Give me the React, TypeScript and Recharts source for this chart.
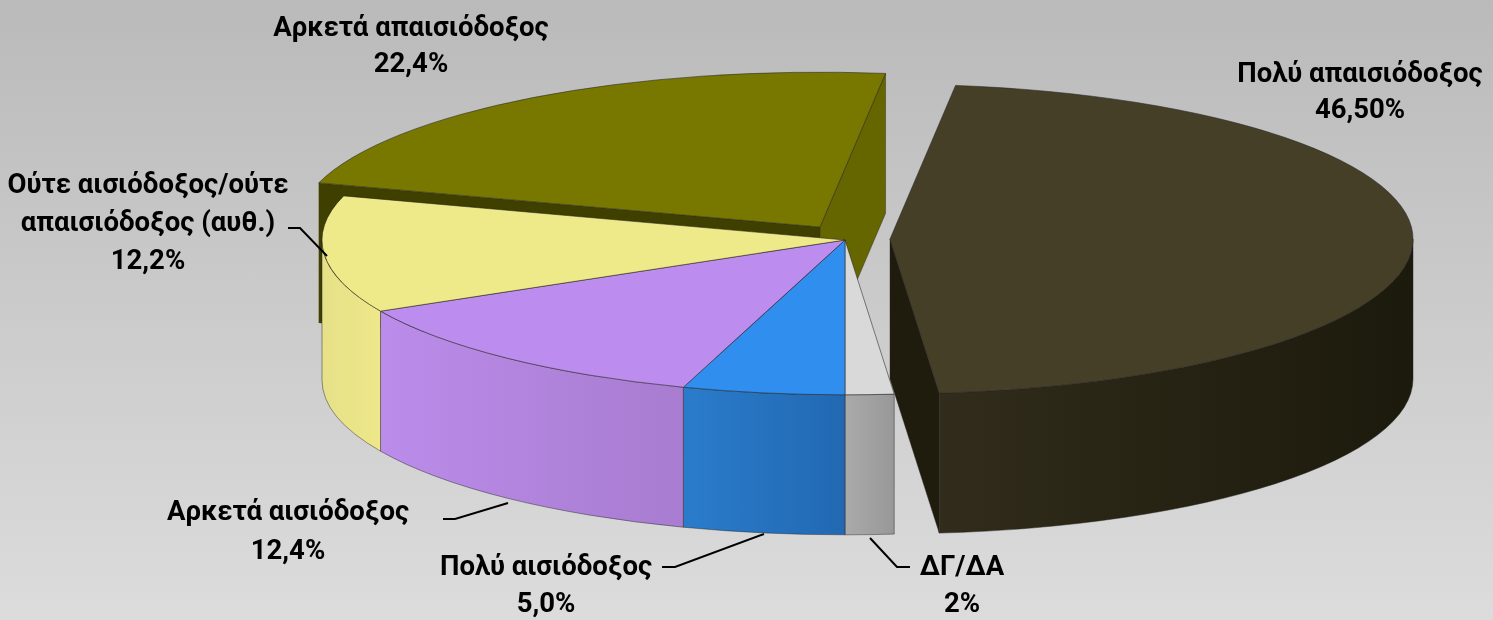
import { PieChart, Pie, Cell } from "recharts"

// drawn back to front, so the olive slice comes first
const sliceNames = ["Αρκετά απαισιόδοξος", "Πολύ απαισιόδοξος", "ΔΓ/ΔΑ", "Πολύ αισιόδοξος", "Αρκετά αισιόδοξος", "Ούτε αισιόδοξος/ούτε απαισιόδοξος (αυθ.)"]
const sliceValues = [22.4, 46.5, 1.5, 5, 12.4, 12.2]
const valueLabels = ["22,4%", "46,50%", "2%", "5,0%", "12,4%", "12,2%"]

const topColors = ["#787800", "#453f28", "#d9d9d9", "#2f8eee", "#bc8cee", "#eeea8a"]
const wallFrom = ["#666600", "#312c1b", "#aaaaaa", "#2a7ccb", "#bb8cea", "#e6e088"]
const wallTo = ["#666600", "#1c1a0c", "#989898", "#2268b2", "#a87cd0", "#eee88a"]
const faceColors = ["#3f3f00", "#1f1c0e", "", "", "", ""]

const explodeX = [-25, 45, 0, 0, 0, 0]
const explodeY = [-13, -1, 0, 0, 0, 0]

const labelLines = [
  ["Αρκετά απαισιόδοξος"],
  ["Πολύ απαισιόδοξος"],
  ["ΔΓ/ΔΑ"],
  ["Πολύ αισιόδοξος"],
  ["Αρκετά αισιόδοξος"],
  ["Ούτε αισιόδοξος/ούτε", "απαισιόδοξος (αυθ.)"],
]
const labelX = [411, 1360, 962, 546, 288, 148]
const labelY = [36, 82, 575, 575, 520, 193]
const labelStep = [36, 36, 37, 37, 39, 38]
const leaderLines = ["", "", "910,567 897,567 870,538", "662,567 675,567 764,534", "443,519 455,519 508,503", "288,228 300,228 327,256"]

const WIDTH = 1493
const HEIGHT = 620
const TILT = 0.296
const DEPTH = 140
const rad = (a: number) => (a * Math.PI) / 180

function Slice3D(props: any) {
  const { cx, cy, outerRadius, startAngle, endAngle, index } = props
  const i = index ?? 0
  const x0 = cx + explodeX[i]
  const y0 = cy + explodeY[i]
  const rx = outerRadius
  const ry = outerRadius * TILT
  const px = (a: number) => x0 + rx * Math.cos(rad(a))
  const py = (a: number) => y0 - ry * Math.sin(rad(a))
  const hi = Math.max(startAngle, endAngle)
  const lo = Math.min(startAngle, endAngle)
  const large = hi - lo > 180 ? 1 : 0
  const top = `M${x0},${y0} L${px(hi)},${py(hi)} A${rx},${ry} 0 ${large} 1 ${px(lo)},${py(lo)} Z`

  // outer wall is only seen on the front half of the ellipse
  const wallHi = Math.min(hi, 0)
  const wallLo = Math.max(lo, -180)
  const gid = `wall-${i}`
  let wall = ""
  if (wallHi > wallLo) {
    wall =
      `M${px(wallHi)},${py(wallHi)} A${rx},${ry} 0 0 1 ${px(wallLo)},${py(wallLo)} ` +
      `L${px(wallLo)},${py(wallLo) + DEPTH} A${rx},${ry} 0 0 0 ${px(wallHi)},${py(wallHi) + DEPTH} Z`
  }
  const face = (a: number) =>
    `M${x0},${y0} L${px(a)},${py(a)} L${px(a)},${py(a) + DEPTH} L${x0},${y0 + DEPTH} Z`
  const exploded = explodeX[i] !== 0

  return (
    <g>
      <defs>
        <linearGradient id={gid} gradientUnits="userSpaceOnUse" x1={px(wallLo)} x2={px(wallHi)} y1={0} y2={0}>
          <stop offset="0%" stopColor={wallFrom[i]} />
          <stop offset="100%" stopColor={wallTo[i]} />
        </linearGradient>
      </defs>
      {exploded && Math.cos(rad(hi)) < 0 && <path d={face(hi)} fill={faceColors[i]} />}
      {exploded && Math.cos(rad(lo)) > 0 && <path d={face(lo)} fill={i === 0 ? wallFrom[0] : faceColors[i]} stroke="#222" strokeOpacity={0.4} />}
      {wall && <path d={wall} fill={`url(#${gid})`} stroke="#222" strokeOpacity={0.45} strokeWidth={1} />}
      <path d={top} fill={topColors[i]} stroke="#222" strokeOpacity={0.55} strokeWidth={1} />
    </g>
  )
}

function SliceLabel(props: any) {
  const i = props.index
  const lines = [...labelLines[i], valueLabels[i]]
  return (
    <text textAnchor="middle" fontFamily="Roboto, sans-serif" fontWeight={700} fontSize={27.5} fill="#000">
      {lines.map((line, n) => (
        <tspan key={n} x={labelX[i]} y={labelY[i] + n * labelStep[i]}>
          {line}
        </tspan>
      ))}
    </text>
  )
}

function LeaderLine(props: any) {
  const pts = leaderLines[props.index]
  if (!pts) return <g />
  return <polyline points={pts} fill="none" stroke="#000" strokeWidth={2} />
}

export default function App() {
  const data = sliceNames.map((name, i) => ({ name, value: sliceValues[i] }))
  return (
    <div
      style={{
        position: "fixed",
        left: 0,
        top: 0,
        width: WIDTH,
        height: HEIGHT,
        background: "linear-gradient(to bottom, #bababa, #dcdcdc)",
      }}
    >
      <PieChart width={WIDTH} height={HEIGHT} margin={{ top: 0, right: 0, bottom: 0, left: 0 }} style={{ filter: "blur(0.4px)" }}>
        <Pie
          data={data}
          dataKey="value"
          nameKey="name"
          cx={845}
          cy={240}
          outerRadius={523}
          startAngle={163.44}
          endAngle={-196.56}
          paddingAngle={0}
          stroke="none"
          isAnimationActive={false}
          shape={Slice3D}
          label={SliceLabel}
          labelLine={LeaderLine}
        >
          {data.map((d) => (
            <Cell key={d.name} />
          ))}
        </Pie>
      </PieChart>
    </div>
  )
}
